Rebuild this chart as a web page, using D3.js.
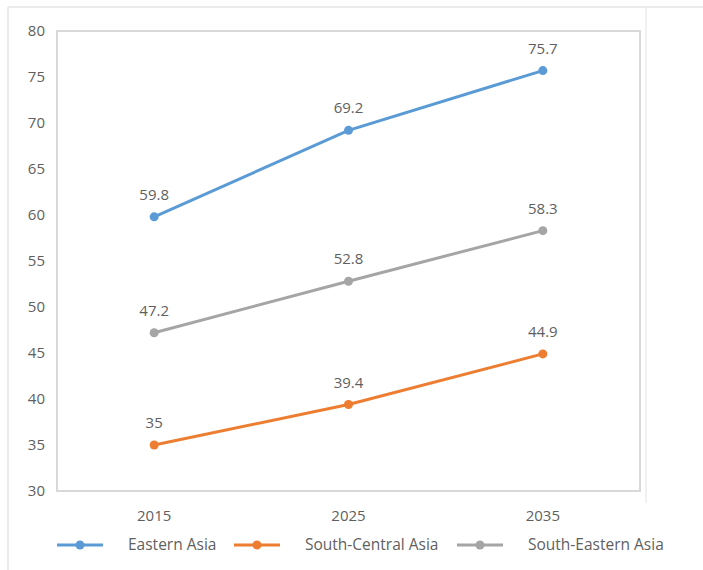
<!DOCTYPE html>
<html>
<head>
<meta charset="utf-8">
<script src="https://cdn.jsdelivr.net/npm/d3@7"></script>
<style>
  body { margin: 0; background: #fff; }
  text { font-family: "Open Sans", "Liberation Sans", sans-serif; fill: #5f5f5f; }
</style>
</head>
<body>
<div class="line-chart"></div>
<script>
const years = ["2015", "2025", "2035"]
const seriesNames = ["Eastern Asia", "South-Central Asia", "South-Eastern Asia"]
const easternAsia = [59.8, 69.2, 75.7]
const southCentralAsia = [35, 39.4, 44.9]
const southEasternAsia = [47.2, 52.8, 58.3]
const yTicks = [30, 35, 40, 45, 50, 55, 60, 65, 70, 75, 80]
const colors = ["#5b9bd5", "#ed7d31", "#a5a5a5"]

const series = [easternAsia, southCentralAsia, southEasternAsia].map((values, i) => ({
    name: seriesNames[i],
    color: colors[i],
    values: values.map((v, j) => ({year: years[j], value: v}))
}))

const W = 703, H = 570
const margin = {top: 31, right: 63, bottom: 79, left: 57}
const width = W - margin.left - margin.right
const height = H - margin.top - margin.bottom

const root = d3.select(".line-chart").append("svg")
    .attr("width", W)
    .attr("height", H)

// faint outer frame
root.append("line").attr("x1", 8).attr("x2", W).attr("y1", 7).attr("y2", 7)
    .attr("stroke", "#e4e4e4").attr("stroke-width", 1.5)
root.append("line").attr("x1", 8).attr("x2", 8).attr("y1", 7).attr("y2", H)
    .attr("stroke", "#e4e4e4").attr("stroke-width", 1.5)
root.append("line").attr("x1", 646).attr("x2", 646).attr("y1", 7).attr("y2", 503)
    .attr("stroke", "#ececec").attr("stroke-width", 1.5)

const svg = root.append("g")
    .attr("transform", `translate(${margin.left},${margin.top})`)

const xScale = d3.scaleBand()
    .domain(years)
    .range([0, width])

const yScale = d3.scaleLinear()
    .domain([30, 80])
    .range([height, 0])

// plot area border
svg.append("rect")
    .attr("width", width)
    .attr("height", height)
    .attr("fill", "none")
    .attr("stroke", "#d9d9d9")
    .attr("stroke-width", 2)

const yAxis = d3.axisLeft(yScale).tickValues(yTicks).tickSize(0).tickPadding(12)
svg.append("g")
    .call(yAxis)
    .call(g => g.select(".domain").remove())
    .call(g => g.selectAll("text").style("font-size", "15px").attr("fill", "#5f5f5f"))

const xAxis = d3.axisBottom(xScale).tickSize(0).tickPadding(19)
svg.append("g")
    .attr("transform", `translate(0,${height})`)
    .call(xAxis)
    .call(g => g.select(".domain").remove())
    .call(g => g.selectAll("text").style("font-size", "15px").attr("fill", "#5f5f5f"))

const xPos = d => xScale(d.year) + xScale.bandwidth() / 2

const line = d3.line()
    .x(xPos)
    .y(d => yScale(d.value))

const groups = svg.selectAll(".series")
    .data(series)
    .join("g")
    .attr("class", "series")

groups.append("path")
    .attr("d", d => line(d.values))
    .attr("fill", "none")
    .attr("stroke", d => d.color)
    .attr("stroke-width", 3)

groups.selectAll("circle")
    .data(d => d.values.map(v => ({...v, color: d.color})))
    .join("circle")
    .attr("cx", xPos)
    .attr("cy", d => yScale(d.value))
    .attr("r", 4.5)
    .attr("fill", d => d.color)

groups.selectAll(".label")
    .data(d => d.values)
    .join("text")
    .attr("class", "label")
    .attr("x", xPos)
    .attr("y", d => yScale(d.value) - 17)
    .attr("text-anchor", "middle")
    .style("font-size", "15px")
    .text(d => d.value)

// legend
const legendX = [0, 177, 400]
const legend = root.append("g")
    .attr("transform", "translate(57,545)")

const items = legend.selectAll("g")
    .data(series)
    .join("g")
    .attr("transform", (d, i) => `translate(${legendX[i]},0)`)

items.append("line")
    .attr("x1", 0).attr("x2", 46)
    .attr("stroke", d => d.color)
    .attr("stroke-width", 3)
items.append("circle")
    .attr("cx", 23)
    .attr("r", 4.5)
    .attr("fill", d => d.color)
items.append("text")
    .attr("x", 71)
    .attr("dy", "0.35em")
    .style("font-size", "15.5px")
    .text(d => d.name)
</script>
</body>
</html>
